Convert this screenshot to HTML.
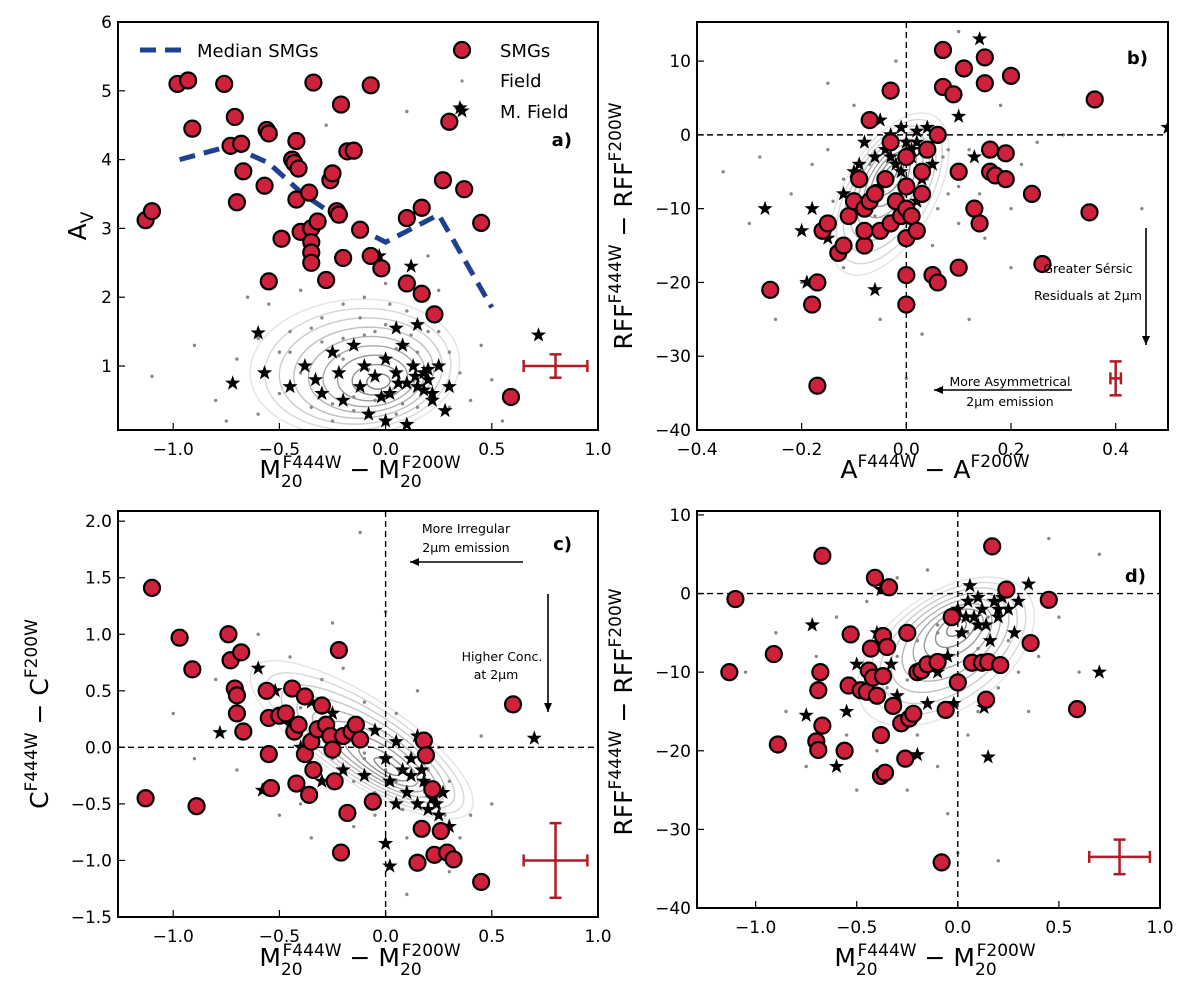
<!DOCTYPE html>
<html><head><meta charset="utf-8"><style>
body{margin:0;background:#fff;}
svg{display:block;font-family:"DejaVu Sans","Liberation Sans",sans-serif;}
</style></head><body>
<svg id="fig" width="1200" height="993" viewBox="0 0 1200 993" xmlns="http://www.w3.org/2000/svg"></svg>
<script>
// ---------- Panel a data ----------
const aSmgX=[-1.13,-1.10,-0.98,-0.93,-0.91,-0.76,-0.73,-0.71,-0.70,-0.68,-0.67,-0.57,-0.56,-0.55,-0.55,-0.49,-0.44,-0.43,-0.42,-0.42,-0.41,-0.40,-0.36,-0.35,-0.35,-0.35,-0.35,-0.34,-0.32,-0.28,-0.26,-0.25,-0.23,-0.22,-0.21,-0.20,-0.18,-0.15,-0.12,-0.07,-0.07,-0.02,0.10,0.10,0.17,0.17,0.23,0.27,0.30,0.37,0.45,0.59];
const aSmgY=[3.12,3.25,5.1,5.15,4.45,5.1,4.2,4.62,3.38,4.23,3.83,3.62,4.43,4.38,2.23,2.85,4.0,3.95,4.27,3.42,3.87,2.95,3.52,3.0,2.8,2.65,2.5,5.12,3.1,2.25,3.7,3.8,3.25,3.2,4.8,2.57,4.12,4.13,2.98,5.08,2.6,2.42,3.15,2.2,3.3,2.05,1.75,3.7,4.55,3.57,3.08,0.55];
const aMedX=[-0.97,-0.73,-0.55,-0.39,-0.22,0.0,0.25,0.5];
const aMedY=[4.0,4.2,3.95,3.5,3.15,2.8,3.2,1.85];
const aStarX=[-0.72,-0.6,-0.57,-0.45,-0.38,-0.33,-0.3,-0.25,-0.22,-0.2,-0.15,-0.12,-0.1,-0.08,-0.05,0,0.02,0.05,0.08,0.1,0.12,0.13,0.15,0.18,0.2,0.22,0.25,0.28,0.3,0.35,0.72,0.0,0.1,0.15,0.05,-0.03,0.18,0.2,0.14,0.22,-0.02,0.06];
const aStarY=[0.75,1.48,0.9,0.7,1.0,0.8,0.6,1.2,0.9,0.5,1.3,0.7,1.0,0.3,0.85,1.1,0.6,0.9,1.3,0.75,2.45,1.0,0.7,0.9,0.8,0.5,1.0,0.35,0.7,4.75,1.45,0.2,0.15,1.6,1.55,2.6,0.65,0.95,0.85,0.6,0.55,0.75];
const aFieldX=[-1.1,-0.9,-0.8,-0.7,-0.6,-0.55,-0.5,-0.45,-0.4,-0.35,-0.3,-0.25,-0.2,-0.15,-0.1,-0.05,0.0,0.05,0.1,0.15,0.2,0.25,0.3,0.35,0.4,0.45,0.5,-0.65,-0.35,0.2,-0.75,0.55,-0.28,0.1,-0.5,-0.2,0.0,0.1,-0.4,-0.3,-0.2,-0.1,0.05,0.15,-0.25,-0.15,-0.05,0.08,0.25,-0.45,-0.35,-0.12,0.02,0.12,-0.22,0.3,-0.6,-0.08];
const aFieldY=[0.85,1.3,0.5,1.1,0.3,1.9,0.6,1.5,2.1,0.4,1.7,0.2,1.9,0.55,2.0,1.5,2.2,0.3,1.8,0.4,1.5,2.1,1.2,0.9,0.5,1.3,0.8,2.0,2.4,2.6,0.2,0.2,4.5,4.7,1.2,1.4,1.6,1.3,0.9,1.35,1.1,1.45,1.25,1.2,0.45,0.35,0.5,0.45,1.5,1.2,1.55,1.7,1.9,1.45,1.15,0.4,1.4,0.95];
// ---------- Panel b data ----------
const bSmgX=[-0.26,-0.18,-0.17,-0.17,-0.16,-0.15,-0.13,-0.12,-0.11,-0.10,-0.09,-0.08,-0.08,-0.08,-0.07,-0.07,-0.06,-0.05,-0.04,-0.03,-0.03,-0.03,-0.02,-0.01,0,0,0,0,0,0,0.01,0.02,0.03,0.03,0.04,0.05,0.06,0.06,0.07,0.07,0.09,0.10,0.10,0.11,0.13,0.14,0.15,0.15,0.16,0.16,0.17,0.19,0.19,0.20,0.24,0.26,0.35,0.36];
const bSmgY=[-21,-23,-20,-34,-13,-12,-16,-15,-11,-9,-6,-15,-13,-10,-9,2,-8,-13,-6,6,-1,-12,-9,-11,-3,-7,-10,-14,-19,-23,-11,-13,-8,-5,-2,-19,0,-20,11.5,6.5,5.5,-5,-18,9,-10,-12,10.5,7,-2,-5,-5.5,-2.5,-6,8,-8,-17.5,-10.5,4.8];
const bStarX=[-0.27,-0.2,-0.18,-0.15,-0.1,-0.08,-0.06,-0.05,-0.04,-0.03,-0.02,-0.01,0,0.01,0.02,0.03,0.04,0.05,-0.05,-0.09,0.1,0.14,0.03,-0.12,-0.06,-0.19,0.0,0.02,0.13,0.5,-0.01,0.01,-0.03,0.02];
const bStarY=[-10,-13,-10,-14,-5,-1,-3,2,-2,0,-4,1,-1,-3,0.5,-2,1,-4,-7,-4,2.5,13,-6,-8,-21,-20,-14,-9,-3,1,-5,-2,-3,-1];
const bFieldX=[-0.35,-0.3,-0.25,-0.2,-0.22,-0.15,-0.12,-0.1,-0.05,0.0,0.05,0.08,0.1,0.12,0.15,0.2,0.18,0.1,-0.02,0.22,0.25,-0.28,0.3,0.45,0.12,-0.15,0.07,-0.08,0.03,0.2,-0.1,0.0,-0.04,-0.12,-0.07,-0.02,0.04,0.08,-0.14,-0.06,0.06,0.1,-0.18,0.14];
const bFieldY=[-5,-12,-25,-20,-8,-2,-18,4,-25,-33,-15,-8,-12,-2,-14,-10,4,14,10,-4,-1,-3,0,-10,-25,7,-3,-15,-27,-18,-10,-6,-12,-6,-4,-8,-6,-2,-9,-11,-10,-7,-4,-8];
// ---------- Panel c data ----------
const cSmgX=[-1.13,-1.10,-0.97,-0.91,-0.89,-0.74,-0.73,-0.71,-0.70,-0.70,-0.68,-0.67,-0.56,-0.55,-0.55,-0.54,-0.50,-0.47,-0.44,-0.43,-0.42,-0.41,-0.38,-0.38,-0.36,-0.35,-0.34,-0.32,-0.30,-0.28,-0.26,-0.25,-0.24,-0.22,-0.21,-0.20,-0.18,-0.16,-0.14,-0.12,-0.06,0.15,0.17,0.18,0.19,0.22,0.23,0.26,0.29,0.32,0.45,0.60];
const cSmgY=[-0.45,1.41,0.97,0.69,-0.52,1.0,0.77,0.52,0.46,0.3,0.84,0.14,0.5,0.26,-0.06,-0.36,0.28,0.3,0.52,0.14,-0.32,0.2,0.45,-0.06,-0.42,0.05,-0.2,0.16,0.37,0.2,0.1,-0.02,-0.3,0.86,-0.93,0.1,-0.58,0.14,0.2,0.07,-0.48,-1.02,-0.72,0.06,-0.07,-0.37,-0.95,-0.74,-0.93,-0.99,-1.19,0.38];
const cStarX=[-0.78,-0.6,-0.58,-0.52,-0.45,-0.4,-0.3,-0.25,-0.2,-0.15,-0.1,-0.05,0,0.02,0.05,0.08,0.1,0.12,0.15,0.18,0.2,0.22,0.25,0.27,0.3,0.05,0.02,0.0,0.7,-0.35,-0.25,0.15,0.12,0.2,0.24,0.17];
const cStarY=[0.13,0.7,-0.38,0.5,0.2,0.0,-0.3,0.05,-0.2,0.1,-0.25,0.15,-0.1,-0.3,0.05,-0.2,-0.4,-0.1,-0.5,-0.3,-0.55,-0.45,-0.6,-0.4,-0.7,-0.5,-1.05,-0.85,0.08,0.4,0.3,0.1,-0.25,-0.35,-0.5,-0.2];
const cFieldX=[-1.0,-0.9,-0.8,-0.7,-0.6,-0.5,-0.45,-0.4,-0.3,-0.2,-0.15,-0.1,-0.05,0.05,0.1,0.15,0.2,0.25,0.3,0.35,0.4,0.5,0.45,-0.35,-0.25,-0.12,0.0,0.3,-0.55,0.1,-0.1,0.05,-0.4,-0.3,-0.2,-0.1,0.0,0.1,0.2,-0.25,-0.15,-0.05,0.08,0.18,-0.35,0.28];
const cFieldY=[0.3,-0.1,0.6,-0.2,1.0,-0.6,0.8,-0.5,0.6,0.7,-0.7,0.4,-0.6,0.3,-0.8,0.5,-0.2,0.0,-0.3,-0.8,-0.6,-0.5,0.1,-0.8,1.1,1.9,1.2,-1.1,0.2,-1.3,-0.1,-0.3,0.35,0.25,0.1,-0.05,-0.2,-0.35,-0.5,-0.1,-0.3,-0.4,-0.55,-0.7,0.15,-0.6];
// ---------- Panel d data ----------
const dSmgX=[-1.13,-1.10,-0.91,-0.89,-0.70,-0.69,-0.69,-0.68,-0.67,-0.67,-0.56,-0.54,-0.53,-0.48,-0.45,-0.44,-0.43,-0.42,-0.41,-0.40,-0.38,-0.38,-0.37,-0.37,-0.36,-0.35,-0.34,-0.32,-0.28,-0.26,-0.25,-0.24,-0.22,-0.20,-0.18,-0.15,-0.10,-0.08,-0.06,-0.03,0,0.07,0.12,0.14,0.15,0.17,0.21,0.24,0.36,0.45,0.59];
const dSmgY=[-10,-0.7,-7.7,-19.2,-18.8,-19.9,-12.3,-10,-16.8,4.8,-20,-11.7,-5.2,-12.3,-12.5,-9.8,-7,-10.7,2,-13,-18,-23.2,-5.4,-10.5,-22.8,-6.8,0.8,-14.3,-16.5,-21,-5,-15.9,-15.3,-10,-9.8,-9,-8.7,-34.2,-14.8,-3,-11.3,-8.8,-8.8,-13.5,-8.7,6,-9.1,0.5,-6.3,-0.8,-14.7];
const dStarX=[-0.75,-0.72,-0.6,-0.55,-0.5,-0.4,-0.38,-0.33,-0.3,-0.2,-0.15,-0.1,-0.05,0,0.02,0.05,0.06,0.08,0.1,0.12,0.14,0.16,0.18,0.2,0.22,0.25,0.28,0.3,0.35,0.15,0.7,0.13,0.0,-0.02,0.1,0.2,0.04];
const dStarY=[-15.5,-4,-22,-15,-9,-5,0.5,-9,-13,-20.5,-14,-10,-8,-2,-5,-1,1,-3,-0.5,-2,-4,-6,-1,-3,-0.5,-2,-5,-1,1.2,-20.8,-10,-14.5,-11,-14,-4,-2,-3];
const dFieldX=[-1.05,-0.9,-0.85,-0.75,-0.7,-0.6,-0.55,-0.5,-0.45,-0.4,-0.3,-0.25,-0.2,-0.15,-0.1,-0.05,0.05,0.1,0.2,0.25,0.3,0.35,0.4,0.5,0.6,0.7,0.45,0.2,-0.35,0.0,-0.1,0.1,-0.3,-0.2,-0.1,0.0,0.1,-0.25,-0.15,-0.05,0.05,0.15];
const dFieldY=[-10,-5,-15,-22,-8,-3,-18,-25,-1,-20,2,-25,-18,3,-22,-28,-18,-15,-12,-6,-10,-15,-8,-3,-10,5,7,-34,-12,-33,-5,-7,-8,-6,-4,-2,0,-11,-9,-7,-5,-3];

const NS="http://www.w3.org/2000/svg";
const svg=document.getElementById('fig');
function mk(tag,attrs,parent,text){const e=document.createElementNS(NS,tag);for(const k in attrs)e.setAttribute(k,attrs[k]);if(text!==undefined)e.textContent=text;(parent||svg).appendChild(e);return e;}
function lin(d0,d1,p0,p1){return v=>p0+(v-d0)/(d1-d0)*(p1-p0);}
function starPath(cx,cy,r){let s='';for(let i=0;i<10;i++){const rr=i%2?r*0.4:r;const a=-Math.PI/2+i*Math.PI/5;s+=(i?'L':'M')+(cx+rr*Math.cos(a)).toFixed(1)+','+(cy+rr*Math.sin(a)).toFixed(1);}return s+'Z';}

function panel(P){
  const g=mk('g',{});
  
  
  const X=lin(P.xl[0],P.xl[1],P.x0,P.x1), Y=lin(P.yl[0],P.yl[1],P.y1,P.y0);
  const cp='clip-'+P.id;
  const cl=mk('clipPath',{id:cp},g);mk('rect',{x:P.x0,y:P.y0,width:P.x1-P.x0,height:P.y1-P.y0},cl);
  const plot=mk('g',{'clip-path':'url(#'+cp+')'},g);
  const cg=mk('g',{},plot);
  
  
  const cx=X(P.cc[0]),cy=Y(P.cc[1]);
  for(let i=1;i<=9;i++){const f=i/9;const c=120+i*12;
    mk('ellipse',{cx:cx+P.coff[0]*(f),cy:cy+P.coff[1]*(f),rx:P.crx*f,ry:P.cry*f,transform:`rotate(${P.crot} ${cx} ${cy})`,fill:'none',stroke:`rgb(${c},${c},${c})`,'stroke-width':1.4},cg);}
  P.fx.forEach((v,i)=>{const c=mk('circle',{cx:X(v),cy:Y(P.fy[i]),r:1.7,fill:'#888'},plot);
    
    });
  if(P.zero){mk('line',{x1:X(0),x2:X(0),y1:P.y0,y2:P.y1,stroke:'#000','stroke-dasharray':'6,4','stroke-width':1.4},plot);
    mk('line',{x1:P.x0,x2:P.x1,y1:Y(0),y2:Y(0),stroke:'#000','stroke-dasharray':'6,4','stroke-width':1.4},plot);}
  if(P.mx){const l=mk('polyline',{points:P.mx.map((v,i)=>X(v)+','+Y(P.my[i])).join(' '),fill:'none',stroke:'#1f3f8f','stroke-width':5,'stroke-dasharray':'16,9'},plot);
    
    }
  P.tx.forEach((v,i)=>{const s=mk('path',{d:starPath(X(v),Y(P.ty[i]),8),fill:'#000'},plot);
    
    });
  P.sx.forEach((v,i)=>{const c=mk('circle',{cx:X(v),cy:Y(P.sy[i]),r:8,fill:'#d0213c',stroke:'#000','stroke-width':2.2},plot);
    
    });
  const eg=mk('g',{stroke:'#b01c22','stroke-width':2.5},g);
  
  
  const ex=X(P.err[0]),ey=Y(P.err[1]),exl=X(P.err[0]-P.err[2]),exr=X(P.err[0]+P.err[2]),eyt=Y(P.err[1]+P.err[3]),eyb=Y(P.err[1]-P.err[3]);
  mk('line',{x1:exl,x2:exr,y1:ey,y2:ey},eg);mk('line',{x1:ex,x2:ex,y1:eyt,y2:eyb},eg);
  mk('line',{x1:exl,x2:exl,y1:ey-6,y2:ey+6},eg);mk('line',{x1:exr,x2:exr,y1:ey-6,y2:ey+6},eg);
  mk('line',{x1:ex-6,x2:ex+6,y1:eyt,y2:eyt},eg);mk('line',{x1:ex-6,x2:ex+6,y1:eyb,y2:eyb},eg);
  mk('rect',{x:P.x0,y:P.y0,width:P.x1-P.x0,height:P.y1-P.y0,fill:'none',stroke:'#000','stroke-width':2},g);
  P.xt.forEach(t=>{const x=X(t);mk('line',{x1:x,x2:x,y1:P.y1,y2:P.y1-7,stroke:'#000','stroke-width':1.2},g);
    const tl=mk('text',{x:x,y:P.y1+25,'text-anchor':'middle','font-size':17},g,(t<0?'\u2212':'')+Math.abs(t).toFixed(1));
    
    });
  P.yt.forEach(t=>{const y=Y(t);mk('line',{x1:P.x0,x2:P.x0+7,y1:y,y2:y,stroke:'#000','stroke-width':1.2},g);
    const tl=mk('text',{x:P.x0-6,y:y+6,'text-anchor':'end','font-size':17},g,(t<0?'\u2212':'')+(P.ydec?Math.abs(t).toFixed(P.ydec):Math.abs(t)));
    
    });
  const lab=mk('text',{x:P.lab[0],y:P.lab[1],'font-size':18,'font-weight':'bold','text-anchor':'end'},g,P.id+')');
  
  
  return {g,X,Y};
}

const xM20=[-1.0,-0.5,0.0,0.5,1.0];
panel({id:'a',name:'panel-a',x0:118,x1:598,y0:22,y1:430,xl:[-1.26,1.0],yl:[0.07,6],xt:xM20,yt:[1,2,3,4,5,6],
  sx:aSmgX,sy:aSmgY,tx:aStarX,ty:aStarY,fx:aFieldX,fy:aFieldY,mx:aMedX,my:aMedY,
  cc:[-0.02,0.75],crx:105,cry:68,crot:-5,coff:[-25,-18],err:[0.8,1.0,0.15,0.17],lab:[572,146]});
panel({id:'b',name:'panel-b',x0:697,x1:1168,y0:22,y1:430,xl:[-0.4,0.5],yl:[-40,15.3],xt:[-0.4,-0.2,0.0,0.2,0.4],yt:[10,0,-10,-20,-30,-40],
  sx:bSmgX,sy:bSmgY,tx:bStarX,ty:bStarY,fx:bFieldX,fy:bFieldY,zero:true,
  cc:[-0.03,-5],crx:90,cry:45,crot:-60,coff:[-20,10],err:[0.4,-33,0.01,2.3],lab:[1148,64],ydec:0});
panel({id:'c',name:'panel-c',x0:118,x1:598,y0:511,y1:917,xl:[-1.26,1.0],yl:[-1.5,2.09],xt:xM20,yt:[2.0,1.5,1.0,0.5,0.0,-0.5,-1.0,-1.5],
  sx:cSmgX,sy:cSmgY,tx:cStarX,ty:cStarY,fx:cFieldX,fy:cFieldY,zero:true,
  cc:[0.02,-0.2],crx:130,cry:42,crot:33,coff:[-40,-10],err:[0.8,-1.0,0.15,0.33],lab:[572,550],ydec:1});
panel({id:'d',name:'panel-d',x0:697,x1:1160,y0:511,y1:908,xl:[-1.29,1.0],yl:[-40,10.5],xt:xM20,yt:[10,0,-10,-20,-30,-40],
  sx:dSmgX,sy:dSmgY,tx:dStarX,ty:dStarY,fx:dFieldX,fy:dFieldY,zero:true,
  cc:[0.0,-4],crx:100,cry:58,crot:-35,coff:[-25,15],err:[0.8,-33.5,0.15,2.2],lab:[1146,582]});

function m20Label(cx,y,name){
  const t=mk('text',{x:cx,y:y,'text-anchor':'middle','font-size':25},svg);
  
  
  t.innerHTML='M<tspan font-size="17" dy="9">20</tspan><tspan font-size="17" dx="-20" dy="-19">F444W</tspan><tspan dy="10"> \u2212 M</tspan><tspan font-size="17" dy="9">20</tspan><tspan font-size="17" dx="-20" dy="-19">F200W</tspan>';
}
m20Label(360,478,'x-axis-title-a');
m20Label(360,966,'x-axis-title-c');
m20Label(935,966,'x-axis-title-d');
function rotLabel(x,y,html,name){
  const t=mk('text',{x:0,y:0,'text-anchor':'middle','font-size':25,transform:`translate(${x},${y}) rotate(-90)`},svg);
  
  
  t.innerHTML=html;
}
rotLabel(86,226,'A<tspan font-size="17" dy="7">V</tspan>','y-axis-title-a');
rotLabel(632,226,'RFF<tspan font-size="17" dy="-11">F444W</tspan><tspan dy="11"> \u2212 RFF</tspan><tspan font-size="17" dy="-11">F200W</tspan>','y-axis-title-b');
rotLabel(48,714,'C<tspan font-size="17" dy="-11">F444W</tspan><tspan dy="11"> \u2212 C</tspan><tspan font-size="17" dy="-11">F200W</tspan>','y-axis-title-c');
rotLabel(632,712,'RFF<tspan font-size="17" dy="-11">F444W</tspan><tspan dy="11"> \u2212 RFF</tspan><tspan font-size="17" dy="-11">F200W</tspan>','y-axis-title-d');
(function(){const t=mk('text',{x:935,y:478,'text-anchor':'middle','font-size':25},svg);
  
  
  t.innerHTML='A<tspan font-size="17" dy="-11">F444W</tspan><tspan dy="11"> \u2212 A</tspan><tspan font-size="17" dy="-11">F200W</tspan>';})();

const lg=mk('g',{},svg);


mk('line',{x1:140,x2:182,y1:50,y2:50,stroke:'#1f3f8f','stroke-width':5,'stroke-dasharray':'16,9'},lg);
mk('text',{x:197,y:57,'font-size':18},lg,'Median SMGs');
mk('circle',{cx:462,cy:50,r:8,fill:'#d0213c',stroke:'#000','stroke-width':2.2},lg);
mk('text',{x:500,y:57,'font-size':18},lg,'SMGs');
mk('circle',{cx:462,cy:81,r:1.6,fill:'#888'},lg);
mk('text',{x:500,y:87,'font-size':18},lg,'Field');
mk('path',{d:starPath(462,111,8),fill:'#000'},lg);
mk('text',{x:500,y:118,'font-size':18},lg,'M. Field');

function ann(x,y,s,name){const t=mk('text',{x:x,y:y,'font-size':12.5,'text-anchor':'middle'},svg,s);
  
  }
function arrow(x1,y1,x2,y2){const g=mk('g',{},svg);
  
  
  mk('line',{x1,y1,x2,y2,stroke:'#000','stroke-width':1.6},g);
  const a=Math.atan2(y2-y1,x2-x1),L=9,W=4;
  mk('path',{d:`M${x2},${y2}L${x2-L*Math.cos(a)+W*Math.sin(a)},${y2-L*Math.sin(a)-W*Math.cos(a)}L${x2-L*Math.cos(a)-W*Math.sin(a)},${y2-L*Math.sin(a)+W*Math.cos(a)}Z`,fill:'#000'},g);}
ann(1088,273,'Greater Sérsic','annotation-sersic');
ann(1088,300,'Residuals at 2μm','annotation-sersic-2');
arrow(1146,228,1146,345);
ann(1010,386,'More Asymmetrical','annotation-asym');
ann(1010,406,'2μm emission','annotation-asym-2');
arrow(1072,390,934,390);
ann(466,533,'More Irregular','annotation-irregular');
ann(466,552,'2μm emission','annotation-irregular-2');
arrow(523,562,410,562);
ann(502,661,'Higher Conc.','annotation-conc');
ann(496,679,'at 2μm','annotation-conc-2');
arrow(548,594,548,712);
</script>
</body></html>
